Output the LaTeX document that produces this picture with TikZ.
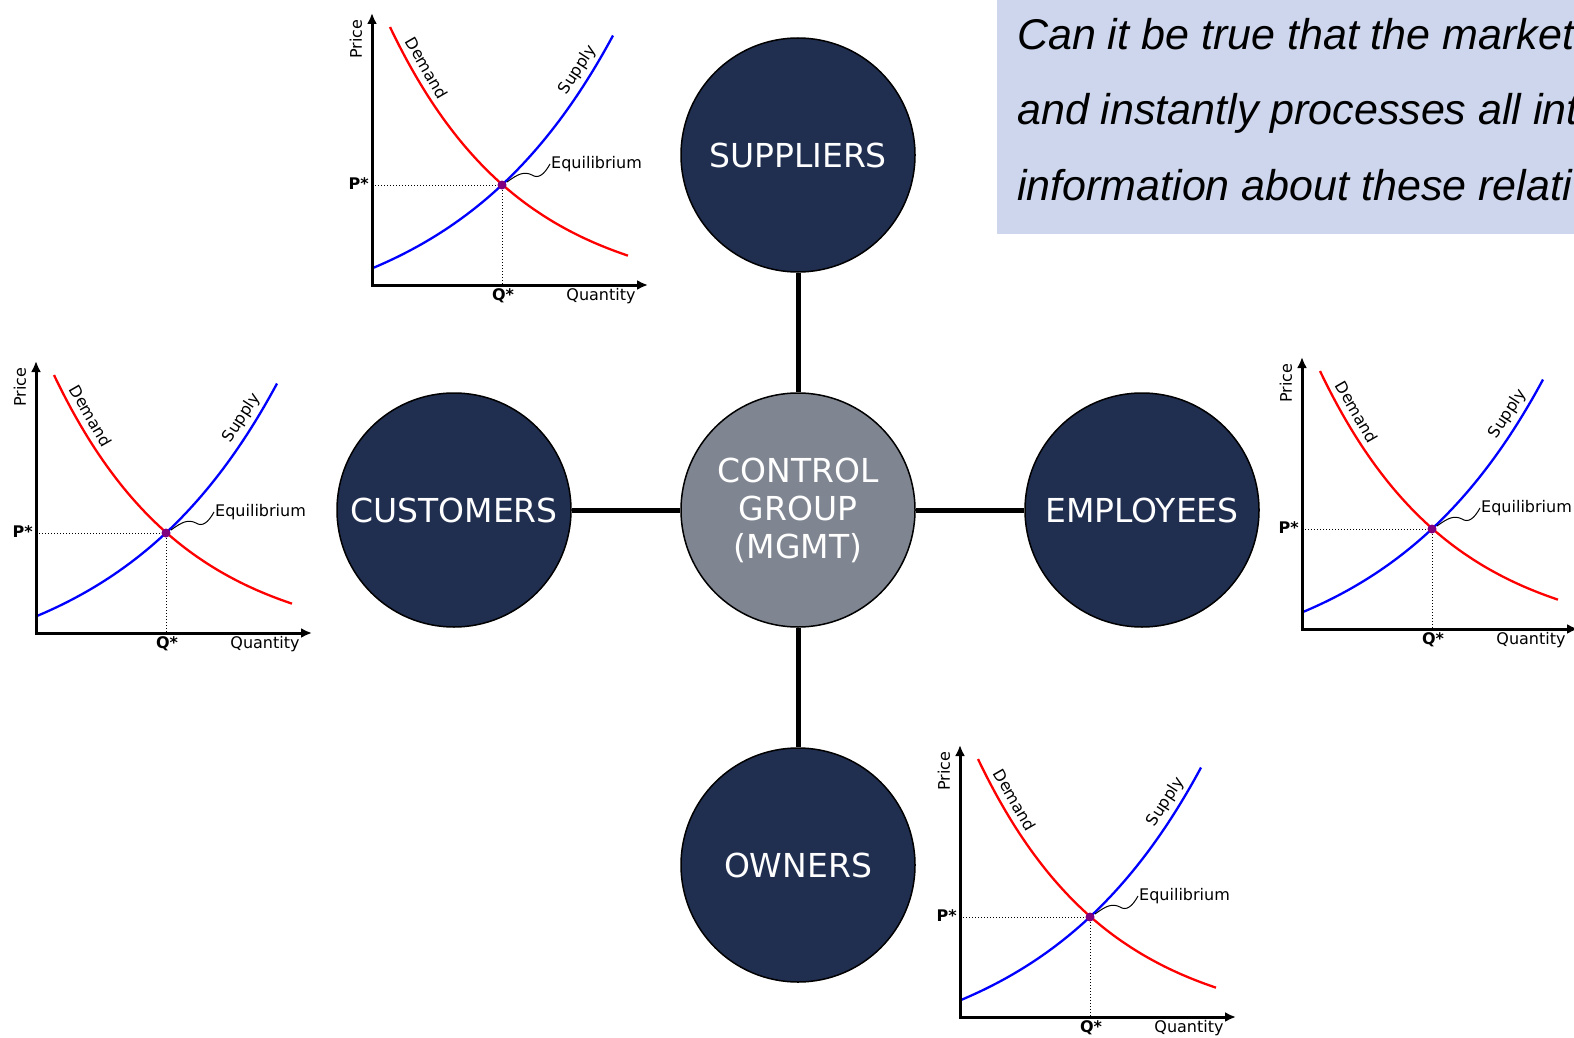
\documentclass[tikz,border=0pt]{standalone}
\usepackage{fontspec}
\usepackage{tikz}
\usetikzlibrary{arrows.meta}
\setmainfont{DejaVu Sans}
\newfontfamily\questionfont{Liberation Sans}

\definecolor{navy}{RGB}{32,46,80}
\definecolor{slate}{RGB}{127,133,145}
\definecolor{note}{RGB}{205,214,236}
\definecolor{eqdot}{RGB}{128,0,128}

% supply and demand chart, #1 = corner of the axes, #2 = prefix for the node names
\newcommand{\marketchart}[2]{%
\begin{scope}[shift={#1},yscale=-1]

\draw [dotted,line width=1] (0,100) -- (130,100) -- (130,0);

\draw [red,line width=2.3] plot[domain=18:256,samples=60,smooth] (\x,{-14.1+312.5*exp(-0.0077*\x)});
\draw [blue,line width=2.3] plot[domain=1:241,samples=60,smooth] (\x,{-50.9+67.5*exp(0.0062*\x)});

\draw [arrows={Latex[length=11,width=10]-Latex[length=11,width=10]},line width=3] (0,272) -- (0,0) -- (276,0);

\coordinate (#2-eq) at (130,100);
\fill [eqdot] (#2-eq) circle (4.5);

\node (#2-price) [rotate=90,chartlabel] at (-16,246) {Price};
\node (#2-demand) [rotate=-60,chartlabel] at (55,217) {Demand};
\node (#2-supply) [rotate=57,chartlabel] at (206,215) {Supply};
\node (#2-p) [anchor=east,chartlabel,font=\fontsize{16}{19}\selectfont\bfseries] at (-2,101) {P*};
\node (#2-q) [anchor=north,chartlabel,font=\fontsize{16}{19}\selectfont\bfseries] at (131,-2) {Q*};
\node (#2-quantity) [anchor=north,chartlabel] at (229,-2) {Quantity};
\node (#2-eqlabel) [anchor=west,chartlabel] at (178,121) {Equilibrium};

\draw [line width=1] ([shift={(5,3)}]#2-eq) .. controls (146,111) and (152,114) .. (160,110)
  .. controls (166,106) and (172,110) .. (#2-eqlabel.west);

\end{scope}}

\begin{document}

\begin{tikzpicture}[x=1pt,y=-1pt,
  group/.style={circle,draw=black,line width=1.5,fill=navy,text=white,minimum size=234,
    inner sep=0,align=center,font=\fontsize{33}{38}\selectfont},
  link/.style={line width=5},
  chartlabel/.style={inner sep=1,font=\fontsize{16}{19}\selectfont},
  question/.style={anchor=base west,inner sep=0,font=\questionfont\itshape\fontsize{43}{50}\selectfont}]

\useasboundingbox (0,0) rectangle (1574,1038);
\clip (0,0) rectangle (1574,1038);

\fill [white] (0,0) rectangle (1574,1038);

% the five groups
\node (ctl) [group,fill=slate] at (798,510) {CONTROL\\GROUP\\(MGMT)};
\node (sup) [group] at (798,155) {SUPPLIERS};
\node (own) [group] at (798,865) {OWNERS};
\node (cus) [group] at (454,510) {CUSTOMERS};
\node (emp) [group] at (1142,510) {EMPLOYEES};

\draw [link] (sup) -- (ctl);
\draw [link] (ctl) -- (own);
\draw [link] (cus) -- (ctl);
\draw [link] (ctl) -- (emp);

% one chart next to each outer group
\marketchart{(372,285)}{top}
\marketchart{(36,633)}{left}
\marketchart{(1302,629)}{right}
\marketchart{(960,1017)}{bottom}

% question box
\fill [note] (997,-5) rectangle (1580,234);
\node (q1) [question] at (1017,50) {Can it be true that the market};
\node (q2) [question] at (1017,125) {and instantly processes all int};
\node (q3) [question] at (1017,200) {information about these relati};

\end{tikzpicture}

\end{document}
